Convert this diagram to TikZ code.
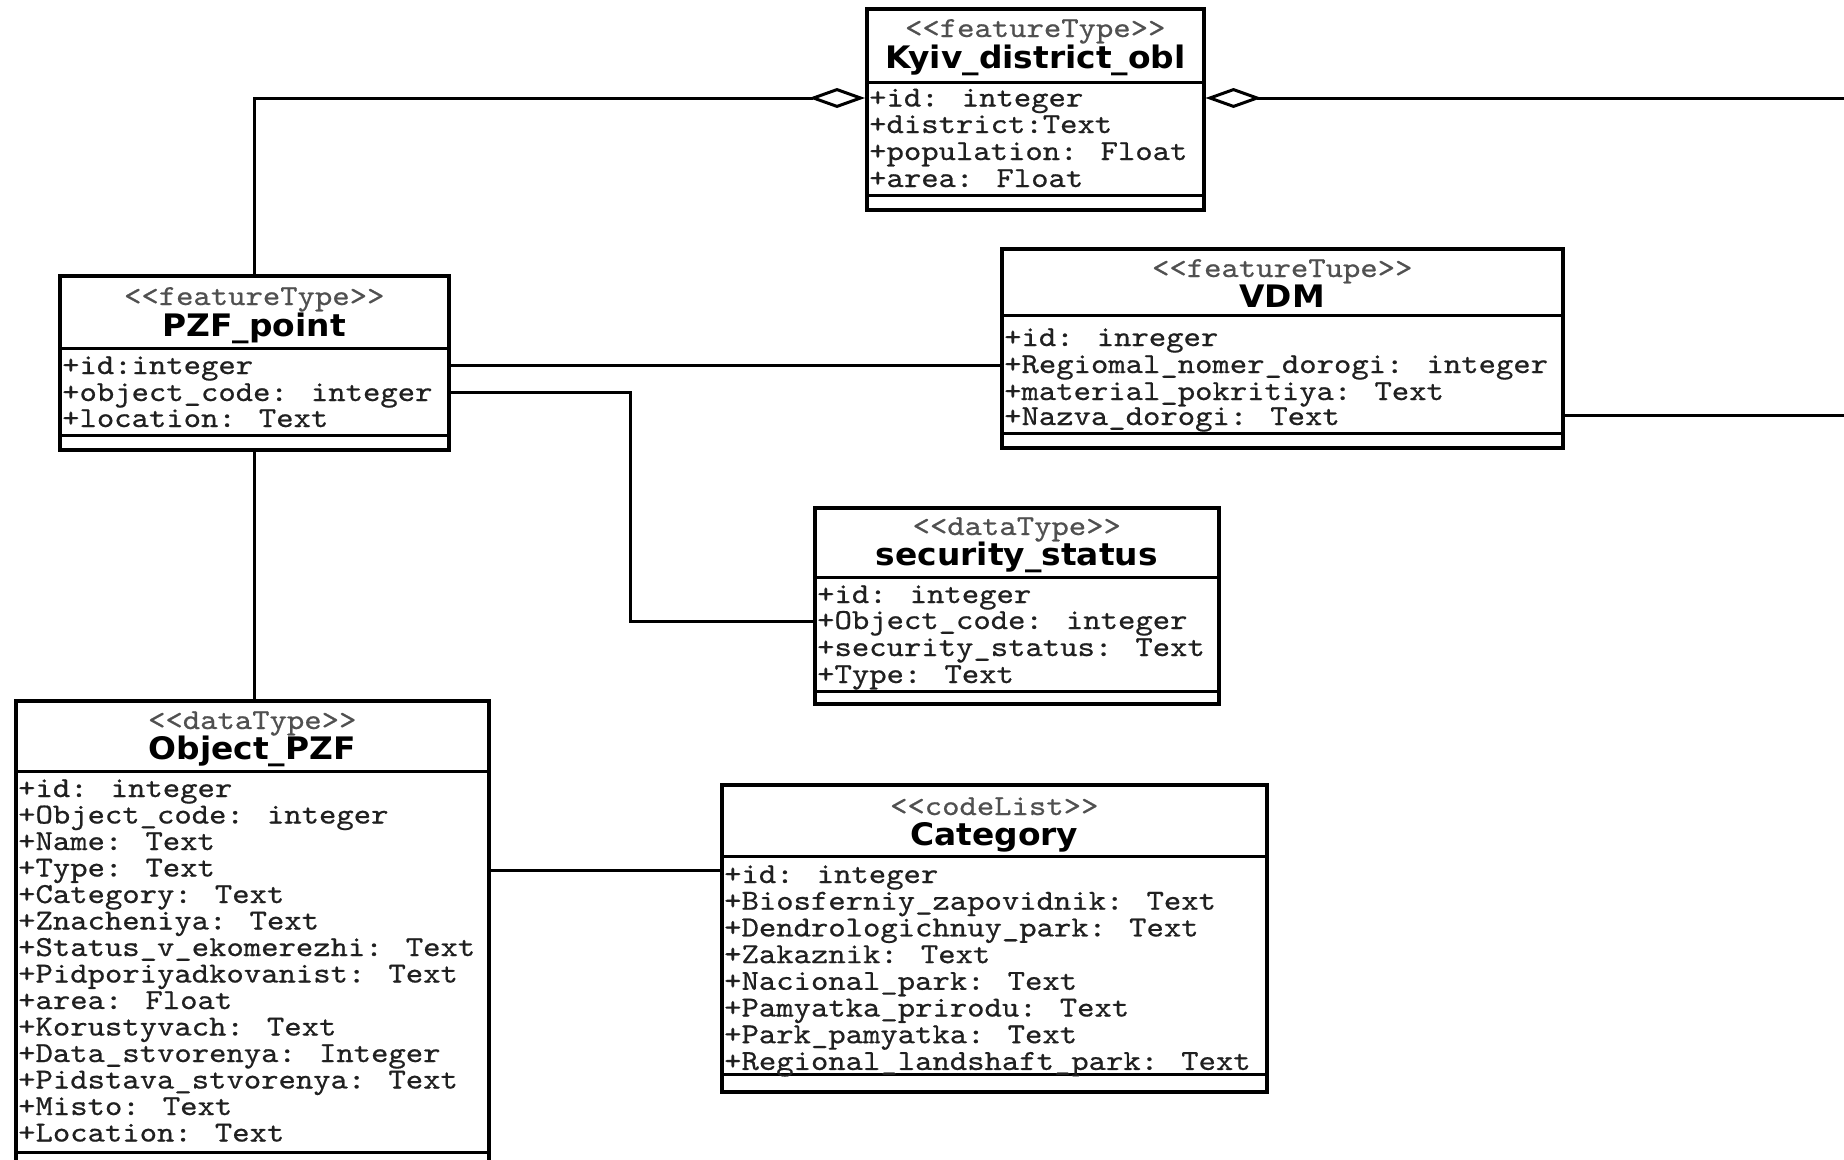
\documentclass[tikz,border=0pt]{standalone}
\usepackage{fontspec}
\newfontfamily\namef{DejaVu Sans}[FakeStretch=1.06]
\newfontfamily\monof{lmmono10-regular.otf}[FakeStretch=1.14, FakeBold=0.6]
\usetikzlibrary{arrows.meta}
\definecolor{attrgray}{HTML}{202020}
\definecolor{stereogray}{HTML}{505050}
\newcommand{\st}[1]{<\kern0pt<#1>\kern0pt>}
\begin{document}
\begin{tikzpicture}[x=1pt,y=-1pt,
  umlbox/.style={draw=black, line width=3.5pt, fill=white, inner sep=0pt, anchor=north west},
  sepline/.style={line width=3pt},
  attr/.style={anchor=base west, inner sep=0pt, font=\monof\fontsize{29}{30}\selectfont, text=attrgray},
  stereo/.style={anchor=base, inner sep=0pt, font=\monof\fontsize{29}{30}\selectfont, text=stereogray},
  cname/.style={anchor=base, inner sep=0pt, font=\namef\bfseries\fontsize{31}{34}\selectfont, text=black},
  conn/.style={line width=3pt}
]
\clip (0,0) rectangle (1844,1159);
\fill[white] (0,0) rectangle (1844,1159);

% ---------- Kyiv_district_obl ----------
\node[umlbox, minimum width=337pt, minimum height=201pt] (kyiv) at (865,7) {};
\draw[sepline] (kyiv.west |- 0,82) -- (kyiv.east |- 0,82);
\draw[sepline] (kyiv.west |- 0,195) -- (kyiv.east |- 0,195);
\node[stereo] (kyivst) at (kyiv.north |- 0,37) {\st{featureType}};
\node[cname] (kyivnm) at (kyiv.north |- 0,68) {Kyiv\_district\_obl};
\node[attr] (kyiv1) at (869,106.5) {+id: integer};
\node[attr] (kyiv2) at (869,133) {+district:Text};
\node[attr] (kyiv3) at (869,160) {+population: Float};
\node[attr] (kyiv4) at (869,187) {+area: Float};

% ---------- PZF_point ----------
\node[umlbox, minimum width=389pt, minimum height=174pt] (pzf) at (58,274) {};
\draw[sepline] (pzf.west |- 0,348) -- (pzf.east |- 0,348);
\draw[sepline] (pzf.west |- 0,435) -- (pzf.east |- 0,435);
\node[stereo] (pzfst) at (pzf.north |- 0,305) {\st{featureType}};
\node[cname] (pzfnm) at (pzf.north |- 0,336) {PZF\_point};
\node[attr] (pzf1) at (62,374) {+id:integer};
\node[attr] (pzf2) at (62,401) {+object\_code: integer};
\node[attr] (pzf3) at (62,427) {+location: Text};

% ---------- VDM ----------
\node[umlbox, minimum width=561pt, minimum height=199pt] (vdm) at (1000,247) {};
\draw[sepline] (vdm.west |- 0,315) -- (vdm.east |- 0,315);
\draw[sepline] (vdm.west |- 0,433) -- (vdm.east |- 0,433);
\node[stereo] (vdmst) at (vdm.north |- 0,277) {\st{featureTupe}};
\node[cname] (vdmnm) at (vdm.north |- 0,307) {VDM};
\node[attr] (vdm1) at (1004,346) {+id: inreger};
\node[attr] (vdm2) at (1004,373) {+Regiomal\_nomer\_dorogi: integer};
\node[attr] (vdm3) at (1004,400) {+material\_pokritiya: Text};
\node[attr] (vdm4) at (1004,425) {+Nazva\_dorogi: Text};

% ---------- security_status ----------
\node[umlbox, minimum width=404pt, minimum height=196pt] (sec) at (813,506) {};
\draw[sepline] (sec.west |- 0,577) -- (sec.east |- 0,577);
\draw[sepline] (sec.west |- 0,691) -- (sec.east |- 0,691);
\node[stereo] (secst) at (sec.north |- 0,535) {\st{dataType}};
\node[cname] (secnm) at (sec.north |- 0,565) {security\_status};
\node[attr] (sec1) at (817,603) {+id: integer};
\node[attr] (sec2) at (817,629) {+Object\_code: integer};
\node[attr] (sec3) at (817,656) {+security\_status: Text};
\node[attr] (sec4) at (817,683) {+Type: Text};

% ---------- Object_PZF ----------
\node[umlbox, minimum width=473pt, minimum height=500pt] (obj) at (14,699) {};
\draw[sepline] (obj.west |- 0,771) -- (obj.east |- 0,771);
\draw[sepline] (obj.west |- 0,1152) -- (obj.east |- 0,1152);
\node[stereo] (objst) at (obj.north |- 0,729) {\st{dataType}};
\node[cname] (objnm) at (obj.north |- 0,759) {Object\_PZF};
\node[attr] (obj1) at (18,797) {+id: integer};
\node[attr] (obj2) at (18,823.5) {+Object\_code: integer};
\node[attr] (obj3) at (18,850) {+Name: Text};
\node[attr] (obj4) at (18,876.5) {+Type: Text};
\node[attr] (obj5) at (18,903) {+Category: Text};
\node[attr] (obj6) at (18,929.5) {+Znacheniya: Text};
\node[attr] (obj7) at (18,956) {+Status\_v\_ekomerezhi: Text};
\node[attr] (obj8) at (18,982.5) {+Pidporiyadkovanist: Text};
\node[attr] (obj9) at (18,1009) {+area: Float};
\node[attr] (obj10) at (18,1035.5) {+Korustyvach: Text};
\node[attr] (obj11) at (18,1062) {+Data\_stvorenya: Integer};
\node[attr] (obj12) at (18,1088.5) {+Pidstava\_stvorenya: Text};
\node[attr] (obj13) at (18,1115) {+Misto: Text};
\node[attr] (obj14) at (18,1141.5) {+Location: Text};

% ---------- Category ----------
\node[umlbox, minimum width=545pt, minimum height=307pt] (cat) at (720,783) {};
\draw[sepline] (cat.west |- 0,856) -- (cat.east |- 0,856);
\draw[sepline] (cat.west |- 0,1074) -- (cat.east |- 0,1074);
\node[stereo] (catst) at (cat.north |- 0,815) {\st{codeList}};
\node[cname] (catnm) at (cat.north |- 0,845) {Category};
\node[attr] (cat1) at (724,883) {+id: integer};
\node[attr] (cat2) at (724,909.7) {+Biosferniy\_zapovidnik: Text};
\node[attr] (cat3) at (724,936.4) {+Dendrologichnuy\_park: Text};
\node[attr] (cat4) at (724,963.1) {+Zakaznik: Text};
\node[attr] (cat5) at (724,989.8) {+Nacional\_park: Text};
\node[attr] (cat6) at (724,1016.5) {+Pamyatka\_prirodu: Text};
\node[attr] (cat7) at (724,1043.2) {+Park\_pamyatka: Text};
\node[attr] (cat8) at (724,1069.9) {+Regional\_landshaft\_park: Text};

% ---------- connectors ----------
\coordinate (kyivout) at (1844,98);
\coordinate (vdmout) at (1844,415);
\draw[conn, -{Diamond[open, length=56pt, width=20pt, line width=3pt]}]
  (pzf.north) |- (kyiv.west |- 0,98);
\draw[conn, {Diamond[open, length=56pt, width=20pt, line width=3pt]}-]
  (kyiv.east |- 0,98) -- (kyivout);
\draw[conn] (vdm.east |- 0,415) -- (vdmout);
\draw[conn] (pzf.east |- 0,365) -- (vdm.west |- 0,365);
\draw[conn] (pzf.east |- 0,392) -| (630,621) -- (sec.west |- 0,621);
\draw[conn] (pzf.south) -- (pzf.south |- obj.north);
\draw[conn] (obj.east |- 0,870) -- (cat.west |- 0,870);
\end{tikzpicture}
\end{document}
